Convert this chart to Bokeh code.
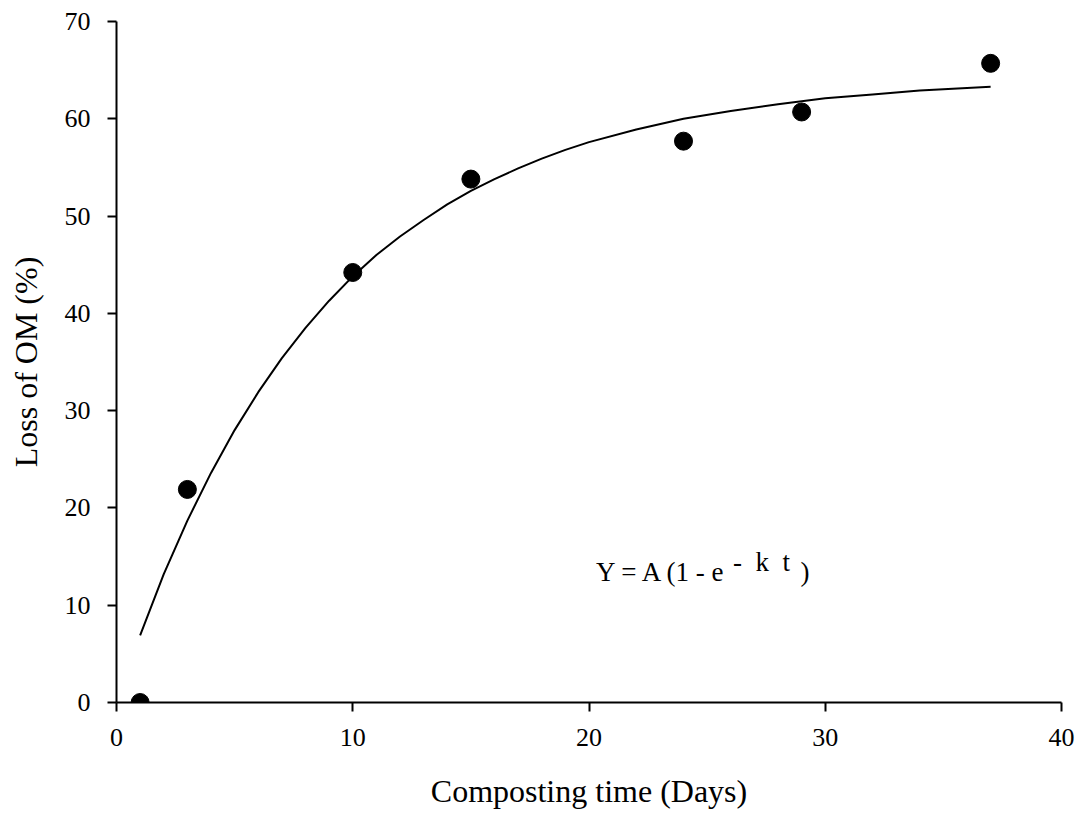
from bokeh.plotting import figure
from bokeh.models import Range1d, ColumnDataSource
from bokeh.core.properties import value
from bokeh.embed import file_html
from bokeh.resources import INLINE

# Observed data
days = [1, 3, 10, 15, 24, 29, 37]
loss_om = [0.0, 21.9, 44.2, 53.8, 57.7, 60.7, 65.7]

# Fitted curve Y = A(1 - e^(-kt))
fit_t = [1, 2, 3, 4, 5, 6, 7, 8, 9, 10, 11, 12, 13, 14, 15, 16, 17, 18, 19, 20,
         22, 24, 26, 28, 30, 32, 34, 37]
fit_y = [6.9, 13.2, 18.7, 23.6, 28.0, 31.9, 35.4, 38.5, 41.3, 43.8, 46.0, 47.9,
         49.6, 51.2, 52.6, 53.8, 54.9, 55.9, 56.8, 57.6, 58.9, 60.0, 60.8, 61.5,
         62.1, 62.5, 62.9, 63.3]

x_ticks = [0, 10, 20, 30, 40]
y_ticks = [0, 10, 20, 30, 40, 50, 60, 70]

FONT = "Liberation Serif"

p = figure(width=1076, height=812, output_backend="svg", toolbar_location=None,
           x_range=Range1d(0, 40), y_range=Range1d(0, 70),
           min_border_left=116, min_border_right=15, min_border_top=21, min_border_bottom=110)

p.outline_line_color = None
p.xgrid.grid_line_color = None
p.ygrid.grid_line_color = None
p.background_fill_color = "white"
p.border_fill_color = "white"

for ax in (p.xaxis[0], p.yaxis[0]):
    ax.axis_line_width = 2
    ax.axis_line_color = "black"
    ax.major_tick_line_width = 2
    ax.major_tick_line_color = "black"
    ax.major_tick_in = 0
    ax.major_tick_out = 9
    ax.minor_tick_line_color = None
    ax.major_label_text_font = FONT
    ax.major_label_text_font_size = "26px"
    ax.major_label_text_color = "black"
    ax.axis_label_text_font = FONT
    ax.axis_label_text_font_size = "32px"
    ax.axis_label_text_font_style = "normal"
    ax.axis_label_text_color = "black"

p.xaxis.ticker = x_ticks
p.yaxis.ticker = y_ticks
p.xaxis.axis_label = "Composting time (Days)"
p.yaxis.axis_label = "Loss of OM (%)"
p.xaxis.major_label_standoff = 17
p.yaxis.major_label_standoff = 17
p.xaxis.axis_label_standoff = 24
p.yaxis.axis_label_standoff = 18

p.line(fit_t, fit_y, line_color="black", line_width=2)
p.scatter(days, loss_om, size=18, fill_color="black", line_color="black", marker="circle")

# Equation annotation
eq_src = ColumnDataSource(dict(x=[20.3, 28.95], y=[13.4, 13.4], t=["Y = A (1 - e", ")"]))
p.text(x="x", y="y", text="t", source=eq_src, text_font=value(FONT),
       text_font_size="27px", text_color="black", text_baseline="alphabetic", text_align="left")
p.text(x=[26.1], y=[14.4], text=["-\u00a0 k\u00a0 t"], text_font=value(FONT),
       text_font_size="27px", text_color="black", text_baseline="alphabetic", text_align="left")

open("out.html", "w").write(file_html(p, INLINE))
